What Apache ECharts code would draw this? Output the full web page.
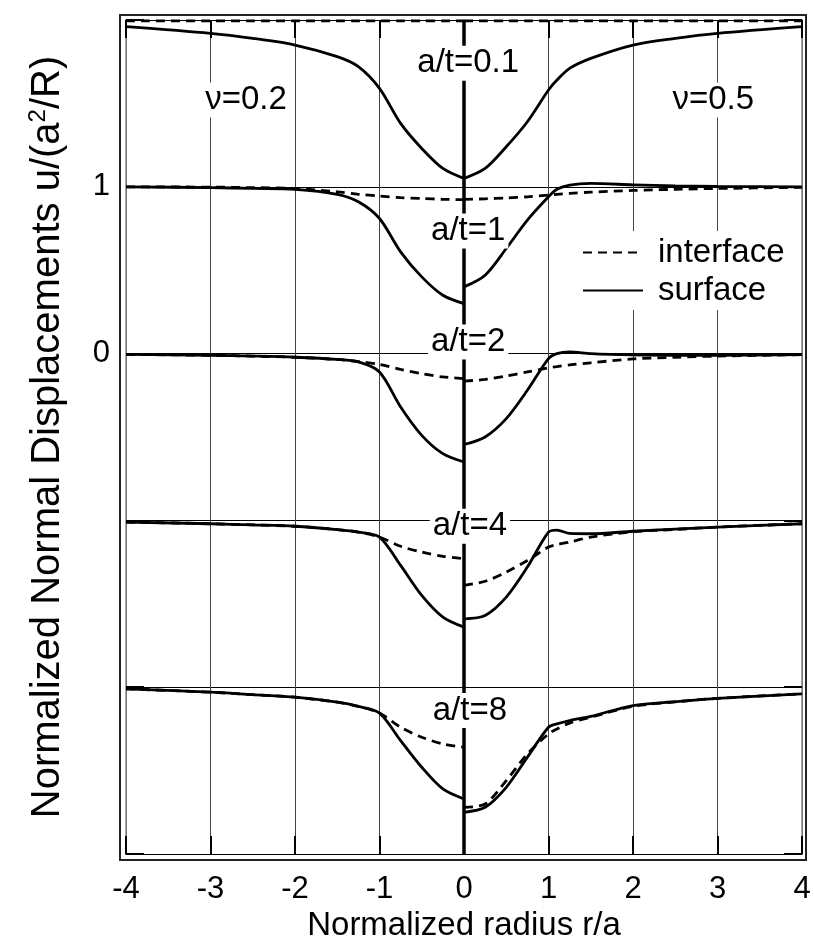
<!DOCTYPE html>
<html>
<head>
<meta charset="utf-8">
<style>
  html, body { margin: 0; padding: 0; background: #fff; }
  #chart { width: 814px; height: 950px; }
</style>
<script src="https://cdn.jsdelivr.net/npm/echarts@6/dist/echarts.min.js"></script>
</head>
<body>
<div id="chart"></div>
<script>
const FONT = "'Liberation Sans', Arial, Helvetica, sans-serif";

// sample radii, left half (nu=0.2) and right half (nu=0.5)
const xLeft = [-4, -3, -2.5, -2, -1.5, -1.25, -1, -0.75, -0.5, -0.25, 0];
const xRight = [0, 0.25, 0.5, 0.75, 1, 1.1, 1.25, 1.5, 2, 2.5, 3, 4];

// a/t = 0.1 (shifted by +2)
const surf01L = [1.96, 1.92, 1.89, 1.85, 1.78, 1.72, 1.59, 1.38, 1.23, 1.11, 1.05];
const surf01R = [1.05, 1.11, 1.24, 1.39, 1.58, 1.64, 1.71, 1.77, 1.85, 1.89, 1.92, 1.96];
const intf01L = [1.995, 1.995, 1.995, 1.995, 1.995, 1.995, 1.995, 1.995, 1.995, 1.995, 1.995];
const intf01R = [1.995, 1.995, 1.995, 1.995, 1.995, 1.995, 1.995, 1.995, 1.995, 1.995, 1.995, 1.995];

// a/t = 1 (shifted by +1)
const surf1L = [1.0, 0.995, 0.99, 0.985, 0.955, 0.91, 0.81, 0.61, 0.46, 0.35, 0.30];
const surf1R = [0.40, 0.47, 0.63, 0.80, 0.94, 0.985, 1.01, 1.02, 1.012, 1.006, 1.003, 1.0];
const intf1L = [1.0, 0.998, 0.995, 0.99, 0.97, 0.955, 0.945, 0.935, 0.93, 0.925, 0.923];
const intf1R = [0.925, 0.928, 0.933, 0.94, 0.95, 0.955, 0.96, 0.968, 0.978, 0.985, 0.99, 0.997];

// a/t = 2
const surf2L = [-0.005, -0.01, -0.015, -0.022, -0.035, -0.05, -0.11, -0.32, -0.49, -0.60, -0.65];
const surf2R = [-0.545, -0.50, -0.39, -0.22, -0.03, 0.0, 0.01, 0.0, -0.008, -0.01, -0.01, -0.006];
const intf2L = [-0.005, -0.01, -0.015, -0.022, -0.035, -0.048, -0.065, -0.095, -0.12, -0.14, -0.15];
const intf2R = [-0.165, -0.155, -0.135, -0.11, -0.085, -0.078, -0.068, -0.055, -0.032, -0.022, -0.015, -0.006];

// a/t = 4 (shifted by -1)
const surf4L = [-1.01, -1.02, -1.027, -1.035, -1.055, -1.07, -1.10, -1.27, -1.45, -1.58, -1.64];
const surf4R = [-1.59, -1.57, -1.46, -1.28, -1.07, -1.058, -1.078, -1.08, -1.065, -1.052, -1.04, -1.02];
const intf4L = [-1.01, -1.02, -1.027, -1.035, -1.055, -1.07, -1.10, -1.155, -1.19, -1.215, -1.23];
const intf4R = [-1.39, -1.365, -1.31, -1.24, -1.16, -1.145, -1.13, -1.10, -1.068, -1.054, -1.04, -1.02];

// a/t = 8 (shifted by -2)
const surf8L = [-2.01, -2.03, -2.045, -2.06, -2.09, -2.115, -2.155, -2.32, -2.48, -2.61, -2.67];
const surf8R = [-2.75, -2.72, -2.60, -2.42, -2.24, -2.22, -2.20, -2.175, -2.11, -2.087, -2.067, -2.04];
const intf8L = [-2.01, -2.03, -2.045, -2.06, -2.09, -2.115, -2.155, -2.24, -2.30, -2.34, -2.36];
const intf8R = [-2.72, -2.70, -2.56, -2.40, -2.28, -2.25, -2.215, -2.18, -2.115, -2.088, -2.067, -2.04];

// curve annotations (data coordinates)
const noteText = ['a/t=0.1', 'a/t=1', 'a/t=2', 'a/t=4', 'a/t=8', 'ν=0.2', 'ν=0.5'];
const noteX = [0.05, 0.05, 0.05, 0.07, 0.07, -2.58, 2.95];
const noteY = [1.74, 0.735, 0.07, -1.035, -2.14, 1.52, 1.52];

const xTicks = { min: -4, max: 4, interval: 1 };
const yTicks = { min: -3, max: 2, interval: 1 };

const GRID = { left: 126, right: 12, top: 20, bottom: 96 };

function curve(name, xs, ys, dashed) {
    return {
        type: "line",
        name: name,
        data: xs.map((x, i) => [x, ys[i]]),
        symbol: "none",
        smooth: 0.3,
        silent: true,
        z: dashed ? 3 : 2,
        itemStyle: { color: "#000" },
        lineStyle: {
            color: "#000",
            width: 2.8,
            type: dashed ? [9, 6] : "solid"
        }
    };
}

const series = [
    curve("interface", xLeft, intf01L, true),
    curve("interface", xRight, intf01R, true),
    curve("surface", xLeft, surf01L, false),
    curve("surface", xRight, surf01R, false),
    curve("interface", xLeft, intf1L, true),
    curve("interface", xRight, intf1R, true),
    curve("surface", xLeft, surf1L, false),
    curve("surface", xRight, surf1R, false),
    curve("interface", xLeft, intf2L, true),
    curve("interface", xRight, intf2R, true),
    curve("surface", xLeft, surf2L, false),
    curve("surface", xRight, surf2R, false),
    curve("interface", xLeft, intf4L, true),
    curve("interface", xRight, intf4R, true),
    curve("surface", xLeft, surf4L, false),
    curve("surface", xRight, surf4R, false),
    curve("interface", xLeft, intf8L, true),
    curve("interface", xRight, intf8R, true),
    curve("surface", xLeft, surf8L, false),
    curve("surface", xRight, surf8R, false)
];

// thick r = 0 line
series[0].markLine = {
    silent: true,
    symbol: "none",
    label: { show: false },
    lineStyle: { color: "#000", width: 3.5, type: "solid" },
    data: [{ xAxis: 0 }]
};

// text labels with white boxes
series.push({
    type: "scatter",
    name: "notes",
    symbolSize: 1,
    itemStyle: { color: "rgba(0,0,0,0)" },
    silent: true,
    z: 10,
    data: noteText.map((t, i) => ({ name: t, value: [noteX[i], noteY[i]] })),
    label: {
        show: true,
        position: "inside",
        formatter: "{b}",
        color: "#000",
        opacity: 1,
        textBorderWidth: 0,
        fontFamily: FONT,
        fontSize: 33,
        backgroundColor: "#fff",
        padding: [1, 3]
    }
});

const chart = echarts.init(document.getElementById("chart"));

const option = {
    animation: false,
    backgroundColor: "#fff",
    textStyle: { fontFamily: FONT, color: "#000" },
    grid: GRID,
    legend: {
        data: ["interface", "surface"],
        orient: "vertical",
        left: 574,
        top: 231,
        itemWidth: 60,
        itemHeight: 14,
        itemGap: 5,
        selectedMode: false,
        backgroundColor: "#fff",
        padding: [5, 10, 3, 8],
        itemStyle: { opacity: 0 },
        textStyle: { fontSize: 33, color: "#000", fontFamily: FONT, padding: [0, 0, 0, 10] }
    },
    xAxis: [
        {
            type: "value",
            ...xTicks,
            position: "bottom",
            axisLine: { show: true, onZero: false, lineStyle: { color: "#000", width: 1 } },
            axisTick: { inside: true, length: 18, lineStyle: { color: "#000", width: 2 } },
            axisLabel: { fontSize: 31, margin: 20, color: "#000", fontFamily: FONT },
            splitLine: { show: true, lineStyle: { color: "#444", width: 1 } },
            name: "Normalized radius r/a",
            nameLocation: "middle",
            nameGap: 54,
            nameTextStyle: { fontSize: 33, color: "#000", fontFamily: FONT }
        },
        {
            type: "value",
            ...xTicks,
            position: "top",
            axisLine: { show: true, onZero: false, lineStyle: { color: "#000", width: 1 } },
            axisTick: { inside: true, length: 18, lineStyle: { color: "#000", width: 2 } },
            axisLabel: { show: false },
            splitLine: { show: false }
        }
    ],
    yAxis: [
        {
            type: "value",
            ...yTicks,
            position: "left",
            axisLine: { show: true, onZero: false, lineStyle: { color: "#888", width: 1.5 } },
            axisTick: { inside: true, length: 18, lineStyle: { color: "#000", width: 2 } },
            axisLabel: {
                fontSize: 31,
                margin: 16,
                color: "#000",
                fontFamily: FONT,
                formatter: v => (v === 0 || v === 1) ? String(v) : ""
            },
            splitLine: { show: true, lineStyle: { color: "#000", width: 1 } },
            name: "Normalized Normal Displacements u/(a{sup|2}/R)",
            nameLocation: "middle",
            nameRotate: 90,
            nameGap: 56,
            nameTextStyle: {
                fontSize: 40,
                color: "#000",
                fontFamily: FONT,
                rich: { sup: { fontSize: 24, fontFamily: FONT, color: "#000", padding: [0, 0, 20, 0] } }
            }
        },
        {
            type: "value",
            ...yTicks,
            position: "right",
            axisLine: { show: true, onZero: false, lineStyle: { color: "#888", width: 1.5 } },
            axisTick: { inside: true, length: 18, lineStyle: { color: "#000", width: 2 } },
            axisLabel: { show: false },
            splitLine: { show: false }
        }
    ],
    // outer frame of the double border
    graphic: [
        {
            type: "rect",
            silent: true,
            shape: {
                x: GRID.left - 6,
                y: GRID.top - 5,
                width: 814 - GRID.left - GRID.right + 10,
                height: 950 - GRID.top - GRID.bottom + 11
            },
            style: { fill: "none", stroke: "#222", lineWidth: 2 }
        }
    ],
    series: series
};

chart.setOption(option);
</script>
</body>
</html>
